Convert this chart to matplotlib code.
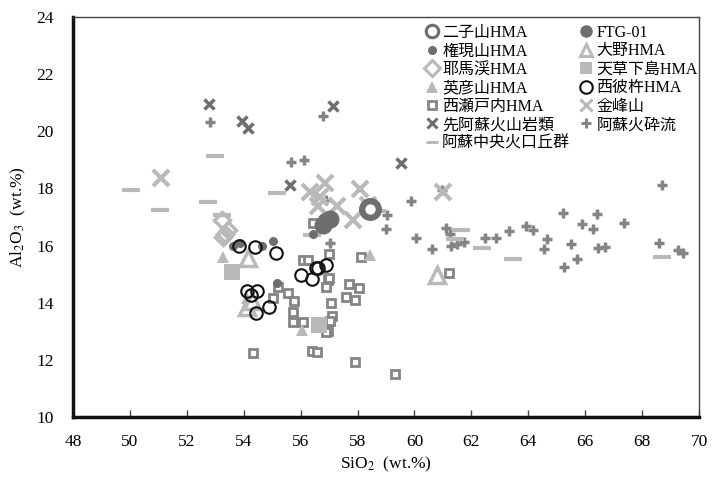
import matplotlib.pyplot as plt
from matplotlib.lines import Line2D

plt.rcParams['font.family'] = ['Liberation Serif', 'Noto Sans CJK JP']
plt.rcParams['mathtext.fontset'] = 'stix'

# SiO2 / Al2O3 (wt.%)
futagoyama_x = [58.44]
futagoyama_y = [17.28]

ftg_x = [56.79, 56.90, 57.03]
ftg_y = [16.72, 16.86, 16.93]

gongenyama_x = [53.87, 55.03, 54.64, 56.44, 55.17, 53.62]
gongenyama_y = [16.09, 16.16, 15.99, 16.41, 14.69, 16.00]

ohno_x = [54.15, 54.12, 54.30, 60.79]
ohno_y = [15.57, 13.85, 14.05, 14.97]

yabakei_x = [53.24, 53.45, 53.27, 53.35]
yabakei_y = [16.90, 16.55, 16.30, 16.40]

amakusa_x = [53.59, 56.65]
amakusa_y = [15.08, 13.22]

hikosan_x = [53.27, 58.44, 56.05, 54.10]
hikosan_y = [15.60, 15.67, 13.05, 14.15]

nishisonogi_x = [53.83, 54.40, 55.14, 56.01, 56.40, 56.54, 56.62, 56.89,
                 54.12, 54.26, 54.47, 54.89, 54.43]
nishisonogi_y = [15.99, 15.95, 15.74, 14.97, 14.83, 15.22, 15.22, 15.32,
                 14.41, 14.27, 14.41, 13.85, 13.64]

nishiseto_x = [56.44, 57.00, 56.08, 56.26, 58.12, 56.96, 56.89, 57.70, 58.05,
               57.60, 57.91, 57.07, 55.20, 55.56, 55.77, 55.03, 55.73, 55.73,
               56.08, 57.10, 57.03, 56.40, 56.58, 54.33, 57.91, 59.32, 61.22,
               56.96, 56.90, 57.00]
nishiseto_y = [16.79, 15.70, 15.50, 15.50, 15.60, 14.80, 14.55, 14.66, 14.52,
               14.20, 14.10, 13.99, 14.55, 14.34, 14.06, 14.17, 13.68, 13.33,
               13.33, 13.54, 13.36, 12.31, 12.28, 12.24, 11.93, 11.50, 15.04,
               13.00, 12.98, 14.85]

kinpozan_x = [51.09, 56.33, 56.86, 56.68, 57.28, 58.09, 57.84, 58.37, 61.00, 56.60]
kinpozan_y = [18.37, 17.88, 18.19, 17.70, 17.39, 17.98, 16.90, 17.42, 17.88, 17.40]

pre_aso_x = [52.78, 53.94, 54.15, 57.14, 55.63, 59.53]
pre_aso_y = [20.96, 20.36, 20.12, 20.89, 18.12, 18.89]

aso_flow_x = [52.82, 56.79, 55.66, 56.12, 56.89, 59.04, 59.00, 57.03, 59.88,
              60.06, 60.62, 61.11, 61.25, 61.29, 61.50, 61.74, 62.48, 62.87,
              63.33, 63.92, 64.17, 64.66, 64.55, 65.22, 65.50, 65.26, 65.71,
              65.89, 66.28, 66.42, 66.46, 66.70, 67.37, 68.70, 68.60, 69.27,
              69.44, 60.95]
aso_flow_y = [20.33, 20.54, 18.93, 18.99, 17.60, 17.07, 16.58, 16.09, 17.56,
              16.27, 15.88, 16.62, 16.41, 15.99, 16.05, 16.13, 16.27, 16.27,
              16.51, 16.69, 16.55, 16.23, 15.88, 17.14, 16.06, 15.25, 15.53,
              16.76, 16.58, 17.11, 15.92, 15.95, 16.79, 18.12, 16.09, 15.85,
              15.74, 17.95]

aso_central_x = [52.99, 51.06, 52.75, 55.17, 56.40, 53.24, 58.69, 61.64,
                 61.43, 62.38, 63.47, 68.70, 50.04]
aso_central_y = [19.14, 17.25, 17.53, 17.84, 16.37, 17.07, 17.21, 16.55,
                 16.23, 15.92, 15.53, 15.60, 17.95]

dark = '#6e6e6e'
mid = '#858585'
light = '#b9b9b9'

fig = plt.figure(figsize=(7.13, 4.79), dpi=100)
ax = fig.add_axes([0.1024, 0.1294, 0.878, 0.835])

styles = {
    '二子山HMA': dict(marker='o', ms=12, mfc='white', mec=dark, mew=4.5),
    '権現山HMA': dict(marker='o', ms=6.5, mfc=dark, mec=dark, mew=0),
    '耶馬渓HMA': dict(marker='D', ms=8, mfc='none', mec=light, mew=2.5),
    '英彦山HMA': dict(marker='^', ms=9, mfc=light, mec=light, mew=0),
    '西瀬戸内HMA': dict(marker='s', ms=6, mfc='white', mec=mid, mew=2),
    '先阿蘇火山岩類': dict(marker='x', ms=7, mfc='none', mec=dark, mew=2.5),
    '阿蘇中央火口丘群': dict(marker='_', ms=13, mfc='none', mec=light, mew=3),
    'FTG-01': dict(marker='o', ms=13, mfc=dark, mec=dark, mew=0),
    '大野HMA': dict(marker='^', ms=12, mfc='white', mec=light, mew=2.5),
    '天草下島HMA': dict(marker='s', ms=11, mfc=light, mec=light, mew=0),
    '西彼杵HMA': dict(marker='o', ms=9, mfc='none', mec='#111111', mew=1.5),
    '金峰山': dict(marker='x', ms=12, mfc='none', mec=light, mew=3),
    '阿蘇火砕流': dict(marker='+', ms=7, mfc='none', mec=mid, mew=2.5),
}

series = [
    ('阿蘇火砕流', aso_flow_x, aso_flow_y),
    ('阿蘇中央火口丘群', aso_central_x, aso_central_y),
    ('先阿蘇火山岩類', pre_aso_x, pre_aso_y),
    ('金峰山', kinpozan_x, kinpozan_y),
    ('西瀬戸内HMA', nishiseto_x, nishiseto_y),
    ('耶馬渓HMA', yabakei_x, yabakei_y),
    ('天草下島HMA', amakusa_x, amakusa_y),
    ('英彦山HMA', hikosan_x, hikosan_y),
    ('大野HMA', ohno_x, ohno_y),
    ('権現山HMA', gongenyama_x, gongenyama_y),
    ('西彼杵HMA', nishisonogi_x, nishisonogi_y),
    ('FTG-01', ftg_x, ftg_y),
    ('二子山HMA', futagoyama_x, futagoyama_y),
]

for name, xs, ys in series:
    ax.plot(xs, ys, linestyle='none', **styles[name])

legend_order = ['二子山HMA', '権現山HMA', '耶馬渓HMA', '英彦山HMA', '西瀬戸内HMA',
                '先阿蘇火山岩類', '阿蘇中央火口丘群',
                'FTG-01', '大野HMA', '天草下島HMA', '西彼杵HMA', '金峰山', '阿蘇火砕流']
handles = []
for name in legend_order:
    st = dict(styles[name])
    st['ms'] = min(st['ms'], 9)
    st['mew'] = min(st['mew'], 2.2)
    handles.append(Line2D([], [], linestyle='none', **st))

ax.legend(handles, legend_order, ncol=2, loc='upper left',
          bbox_to_anchor=(0.55, 1.0), frameon=False, fontsize=11.5,
          handlelength=0.8, handletextpad=0.25, columnspacing=0.6,
          labelspacing=0.15, borderaxespad=0.1)

ax.set_xlim(48, 70)
ax.set_ylim(10, 24)
ax.set_xticks(range(48, 71, 2))
ax.set_yticks(range(10, 25, 2))

for side in ['left', 'bottom']:
    ax.spines[side].set_linewidth(2.5)
    ax.spines[side].set_color('#111111')
for side in ['top', 'right']:
    ax.spines[side].set_linewidth(1.0)
    ax.spines[side].set_color('#444444')

ax.tick_params(axis='x', direction='in', length=5, width=1, color='#444444',
               pad=12, labelsize=12.5)
ax.tick_params(axis='y', length=0, pad=14, labelsize=12.5)

ax.set_xlabel('SiO$_2$  (wt.%)', fontsize=12.5, labelpad=4)
ax.set_ylabel('Al$_2$O$_3$  (wt.%)', fontsize=12.5, labelpad=6)

fig.savefig('out.png', dpi=100)
